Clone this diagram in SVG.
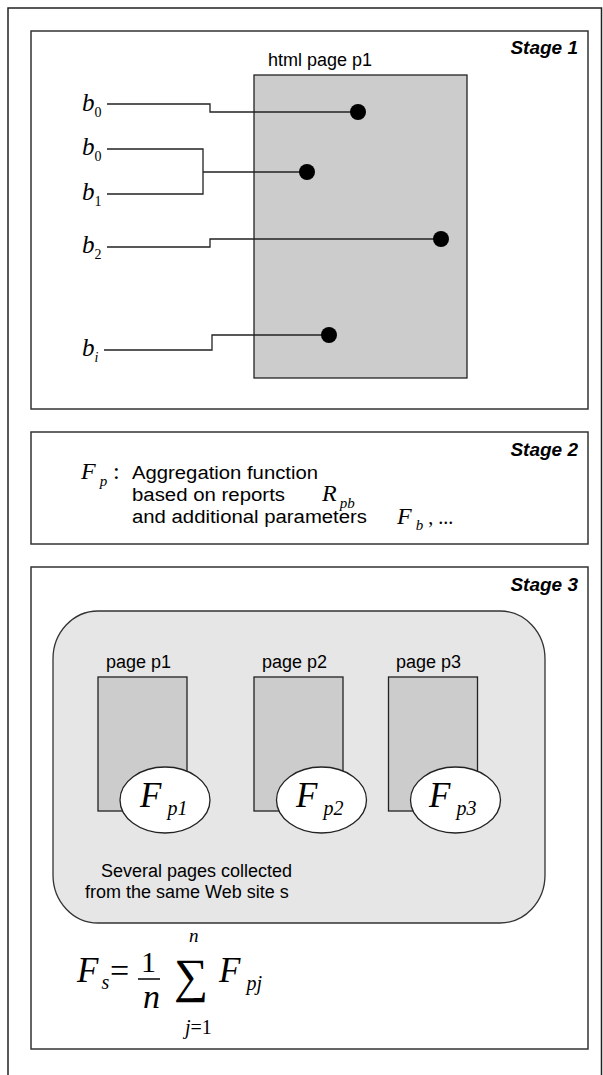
<svg xmlns="http://www.w3.org/2000/svg" width="603" height="1075" viewBox="0 0 603 1075">
<style>
.frame{fill:none;stroke:#222;stroke-width:1.5}
.stage{fill:#fff;stroke:#333;stroke-width:1.5}
.page{fill:#cccccc;stroke:#222;stroke-width:1.3}
.wire{fill:none;stroke:#222;stroke-width:1.3}
.dot{fill:#000}
.sans{font-family:"Liberation Sans",Arial,sans-serif;font-size:18px;fill:#000}
.title{font-family:"Liberation Sans",Arial,sans-serif;font-size:19px;font-weight:bold;font-style:italic;fill:#000}
.math{font-family:"Liberation Serif","Times New Roman",serif;font-style:italic;fill:#000}
.up{font-family:"Liberation Serif","Times New Roman",serif;fill:#000}
</style>
<rect x="0" y="0" width="603" height="1075" fill="#fff"/>
<path class="frame" d="M8,1080 V8 H601.5 V1080"/>

<g id="stage1">
<rect class="stage" x="31" y="31" width="557" height="378"/>
<text class="title" x="578" y="54" text-anchor="end">Stage 1</text>
</g>
<g id="page-p1">
<rect class="page" x="254" y="75" width="213" height="303"/>
<text class="sans" x="268" y="66">html page p1</text>
</g>
<g id="labels-b">
<text class="math" x="82" y="111" font-size="25">b<tspan class="up" font-style="normal" font-size="14" dy="6">0</tspan></text>
<text class="math" x="82" y="155" font-size="25">b<tspan class="up" font-style="normal" font-size="14" dy="6">0</tspan></text>
<text class="math" x="82" y="200" font-size="25">b<tspan class="up" font-style="normal" font-size="14" dy="6">1</tspan></text>
<text class="math" x="82" y="253" font-size="25">b<tspan class="up" font-style="normal" font-size="14" dy="6">2</tspan></text>
<text class="math" x="82" y="356" font-size="25">b<tspan font-size="14" dy="6">i</tspan></text>
</g>
<g id="connectors">
<path class="wire" d="M107,104 H210 V112 H358"/>
<path class="wire" d="M107,149 H203 V194 H107 M203,172 H307"/>
<path class="wire" d="M107,247 H210 V239 H441"/>
<path class="wire" d="M104,350 H212 V335 H329"/>
<circle class="dot" cx="358" cy="112" r="8"/>
<circle class="dot" cx="307" cy="172" r="8"/>
<circle class="dot" cx="441" cy="239" r="8"/>
<circle class="dot" cx="329" cy="335" r="8"/>
</g>

<g id="stage2">
<rect class="stage" x="31" y="432" width="557" height="112"/>
<text class="title" x="578" y="456" text-anchor="end">Stage 2</text>
<text class="math" x="81" y="479" font-size="24">F<tspan font-size="15" dx="4" dy="7">p</tspan></text>
<text class="up" x="113" y="479" font-size="24">:</text>
<text class="sans" x="132" y="479" textLength="186" lengthAdjust="spacingAndGlyphs">Aggregation function</text>
<text class="sans" x="132" y="501" textLength="153" lengthAdjust="spacingAndGlyphs">based on reports</text>
<text class="sans" x="132" y="523" textLength="235" lengthAdjust="spacingAndGlyphs">and additional parameters</text>
<text class="math" x="322" y="501" font-size="24">R<tspan font-size="15" dx="3" dy="7">pb</tspan></text>
<text class="math" x="397" y="524" font-size="24">F<tspan font-size="15" dx="4" dy="6">b</tspan><tspan class="up" font-style="normal" font-size="20" dx="5" dy="-6">, ...</tspan></text>
</g>

<g id="stage3">
<rect class="stage" x="31" y="567" width="557" height="482"/>
<text class="title" x="578" y="591" text-anchor="end">Stage 3</text>
</g>
<g id="site">
<rect x="53" y="611" width="492" height="312" rx="45" ry="48" fill="#e6e6e6" stroke="#333" stroke-width="1.3"/>
<text class="sans" x="101" y="877">Several pages collected</text>
<text class="sans" x="85" y="898">from the same Web site s</text>
</g>
<g id="page1">
<text class="sans" x="106" y="668">page p1</text>
<rect class="page" x="98" y="677" width="89" height="134"/>
<ellipse cx="165" cy="800" rx="45" ry="33" fill="#fff" stroke="#222" stroke-width="1.3"/>
<text class="math" x="140" y="807" font-size="35">F<tspan font-size="20" dx="6" dy="8">p1</tspan></text>
</g>
<g id="page2">
<text class="sans" x="262" y="668">page p2</text>
<rect class="page" x="254" y="677" width="89" height="134"/>
<ellipse cx="321.5" cy="800" rx="45" ry="33" fill="#fff" stroke="#222" stroke-width="1.3"/>
<text class="math" x="296" y="807" font-size="35">F<tspan font-size="20" dx="6" dy="8">p2</tspan></text>
</g>
<g id="page3">
<text class="sans" x="396" y="668">page p3</text>
<rect class="page" x="388.5" y="677" width="89" height="134"/>
<ellipse cx="455.5" cy="800" rx="45" ry="33" fill="#fff" stroke="#222" stroke-width="1.3"/>
<text class="math" x="429" y="807" font-size="35">F<tspan font-size="20" dx="6" dy="8">p3</tspan></text>
</g>
<g id="formula">
<text class="math" x="77" y="982" font-size="35">F<tspan font-size="20" dx="3" dy="7">s</tspan></text>
<text class="up" x="110" y="982" font-size="34">=</text>
<text class="up" x="141" y="972" font-size="30">1</text>
<line x1="138" y1="979" x2="160" y2="979" stroke="#000" stroke-width="1.5"/>
<text class="math" x="143" y="1008" font-size="34">n</text>
<text class="up" x="174" y="992" font-size="48">∑</text>
<text class="math" x="189" y="942" font-size="19">n</text>
<text class="math" x="185" y="1034" font-size="20">j<tspan class="up" font-style="normal">=1</tspan></text>
<text class="math" x="219" y="982" font-size="35">F<tspan font-size="20" dx="6" dy="8">pj</tspan></text>
</g>
</svg>
